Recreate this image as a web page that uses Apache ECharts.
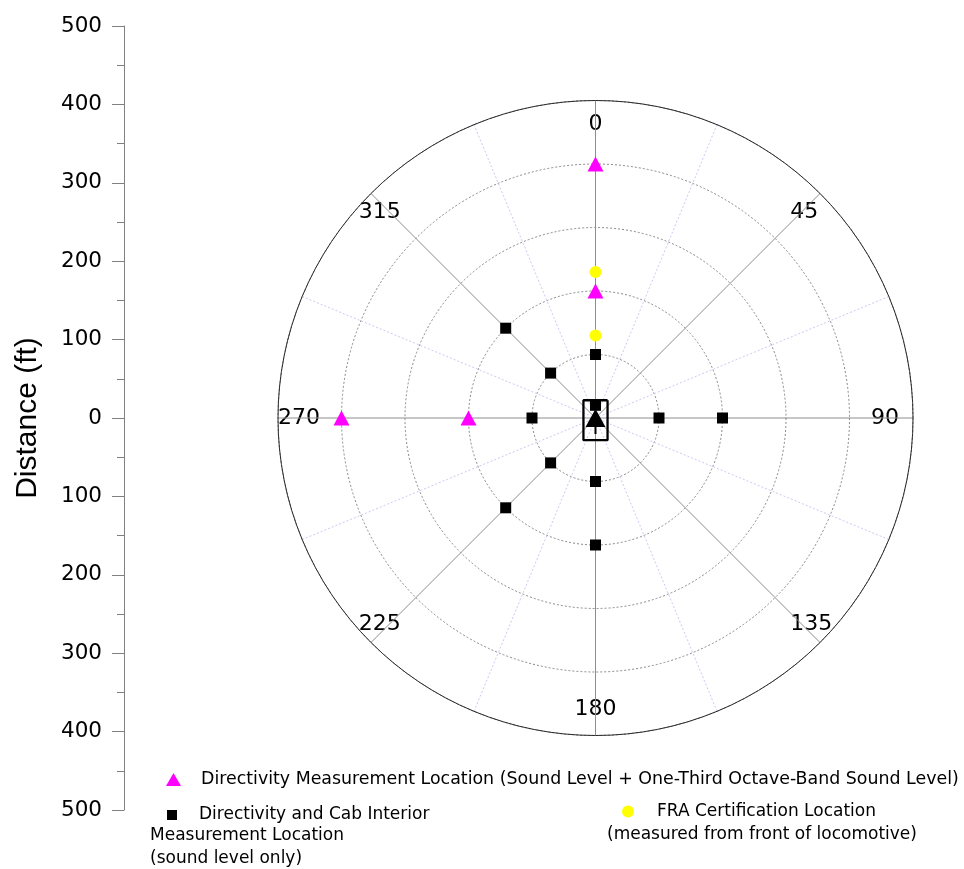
<!DOCTYPE html>
<html>
<head>
<meta charset="utf-8">
<script src="https://cdn.jsdelivr.net/npm/echarts@6/dist/echarts.min.js"></script>
<style>html,body{margin:0;padding:0;background:#fff}#c{width:964px;height:869px}</style>
</head>
<body>
<div id="c"></div>
<script>
// ---- data: [radius (ft), angle (deg)] ----
const directivityPts = [[400, 0], [200, 0], [200, 270], [400, 270]];
const cabPts = [[100, 0], [20, 0], [100, 90], [200, 90], [100, 180], [200, 180],
                [100, 270], [100, 315], [200, 315], [100, 225], [200, 225]];
const fraPts = [[130, 0], [230, 0]];
const locoOutline = [[33.8, 34.2], [39.8, 151.5], [39.8, 208.5], [33.8, 325.8], [33.8, 34.2]];
const locoArrowHead = [[0, 0]];
const locoArrowStem = [[0, 180], [25, 180]];
const angleTicks = [0, 45, 90, 135, 180, 225, 270, 315];
const distanceTicks = [-500, -400, -300, -200, -100, 0, 100, 200, 300, 400, 500];

const nameTri = 'Directivity Measurement Location (Sound Level + One-Third Octave-Band Sound Level)';
const nameSq = 'Directivity and Cab Interior';
const nameCirc = 'FRA Certification Location';

const legFont = 'DejaVu Sans';
const lblBase = {fontFamily: 'DejaVu Sans', fontSize: 22, color: '#000'};
const chart = echarts.init(document.getElementById('c'), null, {renderer: 'canvas'});
chart.setOption({
  animation: false,
  backgroundColor: '#fff',
  grid: {left: 124, top: 26, height: 784, width: 10},
  xAxis: {type: 'value', show: false},
  yAxis: {
    type: 'value', min: distanceTicks[0], max: distanceTicks[distanceTicks.length - 1], interval: 100,
    name: 'Distance (ft)', nameLocation: 'middle', nameRotate: 90, nameGap: 81,
    nameTextStyle: {fontFamily: 'Liberation Sans', fontSize: 30, color: '#000'},
    axisLine: {show: true, lineStyle: {color: '#808080', width: 1}},
    axisTick: {show: true, length: 12, lineStyle: {color: '#808080'}},
    minorTick: {show: true, splitNumber: 2, length: 7, lineStyle: {color: '#808080'}},
    splitLine: {show: false},
    axisLabel: {margin: 22, fontFamily: 'DejaVu Sans', fontSize: 21.5, color: '#000',
      formatter: v => String(Math.abs(v))}
  },
  polar: {center: [595.5, 418], radius: 317.5},
  radiusAxis: {
    type: 'value', min: 0, max: 500, interval: 100,
    axisLine: {show: false}, axisTick: {show: false}, axisLabel: {show: false},
    splitLine: {show: true, lineStyle: {color: '#888', width: 1, type: [2, 2]}}
  },
  angleAxis: {
    type: 'value', min: 0, max: 360, interval: 45, startAngle: 90, clockwise: true,
    axisLine: {show: true, lineStyle: {color: '#2a2a2a', width: 1}},
    axisTick: {show: false},
    axisLabel: {margin: -42, fontFamily: 'DejaVu Sans', fontSize: 22, color: '#000',
      formatter: v => {
        if (angleTicks.indexOf(v) < 0) return '';
        if (v === 0) return '{up|0}';
        if (v === 180) return '{dn|180}';
        return String(v);
      },
      rich: {
        up: Object.assign({padding: [0, 0, 7, 0]}, lblBase),
        dn: Object.assign({padding: [5, 0, 0, 0]}, lblBase)
      }},
    splitLine: {show: true, lineStyle: {color: '#8e8e8e', width: 1}},
    minorTick: {show: false, splitNumber: 2},
    minorSplitLine: {show: true, lineStyle: {color: '#cacaf2', width: 1, type: [2, 2]}}
  },
  legend: [
    {data: [{name: nameTri, icon: 'triangle'}], left: 166, top: 771, padding: 0,
     itemWidth: 15, itemHeight: 13, selectedMode: false,
     textStyle: {fontFamily: legFont, fontSize: 17.4, color: '#000', padding: [0, 0, 0, 15]}},
    {data: [{name: nameSq, icon: 'rect'}], left: 167, top: 806.5, padding: 0,
     itemWidth: 10, itemHeight: 10, selectedMode: false,
     textStyle: {fontFamily: legFont, fontSize: 17, color: '#000', padding: [0, 0, 0, 17]}},
    {data: [{name: nameCirc, icon: 'circle'}], left: 622, top: 803, padding: 0,
     itemWidth: 12, itemHeight: 12, selectedMode: false,
     textStyle: {fontFamily: legFont, fontSize: 17, color: '#000', padding: [0, 0, 0, 18]}}
  ],
  graphic: [
    {type: 'text', x: 150, y: 836, style: {text: 'Measurement Location', font: '17px "DejaVu Sans"', fill: '#000', verticalAlign: 'middle'}},
    {type: 'text', x: 150, y: 859, style: {text: '(sound level only)', font: '17px "DejaVu Sans"', fill: '#000', verticalAlign: 'middle'}},
    {type: 'text', x: 607, y: 835, style: {text: '(measured from front of locomotive)', font: '17px "DejaVu Sans"', fill: '#000', verticalAlign: 'middle'}}
  ],
  series: [
    {name: 'loco outline', type: 'line', coordinateSystem: 'polar', data: locoOutline,
     symbol: 'none', lineStyle: {color: '#000', width: 2.3}, z: 3, silent: true},
    {name: 'loco stem', type: 'line', coordinateSystem: 'polar', data: locoArrowStem,
     symbol: 'none', lineStyle: {color: '#000', width: 2}, z: 3, silent: true},
    {name: nameSq, type: 'scatter', coordinateSystem: 'polar', data: cabPts,
     symbol: 'rect', symbolSize: 11, itemStyle: {color: '#000', opacity: 1}, z: 4},
    {name: 'loco head', type: 'scatter', coordinateSystem: 'polar', data: locoArrowHead,
     symbol: 'triangle', symbolSize: [20, 18], itemStyle: {color: '#000', opacity: 1}, z: 5},
    {name: nameTri, type: 'scatter', coordinateSystem: 'polar', data: directivityPts,
     symbol: 'triangle', symbolSize: [16, 15], itemStyle: {color: '#ff00ff', opacity: 1}, z: 4},
    {name: nameCirc, type: 'scatter', coordinateSystem: 'polar', data: fraPts,
     symbol: 'circle', symbolSize: 12, itemStyle: {color: '#ffff00', opacity: 1}, z: 4}
  ]
});
</script>
</body>
</html>
